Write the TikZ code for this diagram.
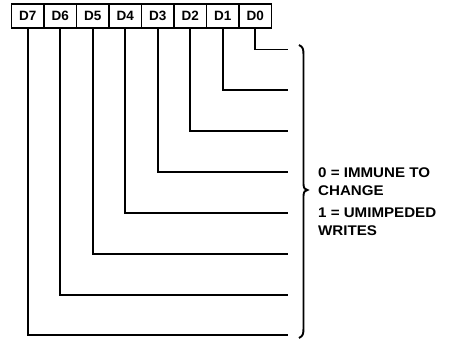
\documentclass[tikz,border=0pt]{standalone}
\usepackage{fontspec}
\setmainfont{Liberation Sans}
\newfontfamily\widefont[FakeStretch=1.08]{Liberation Sans}
\begin{document}
\begin{tikzpicture}[x=1pt,y=-1pt,
  cell/.style={draw,line width=1.9pt,minimum width=32.5pt,minimum height=24pt,inner sep=0pt,
    font=\fontsize{13.5}{15}\selectfont\bfseries},
  wire/.style={line width=1.9pt,line join=miter},
  lab/.style={anchor=base west,inner sep=0pt,font=\widefont\fontsize{14}{16}\selectfont\bfseries}]
\useasboundingbox (0,0) rectangle (451,339);
% register cells
\foreach \n [count=\i from 0] in {7,6,5,4,3,2,1,0}{
  \node[cell] (d\n) at ({11.5+32.5*\i+16.25},16) {D\n};
}
% line end coordinates
\foreach \n [count=\k from 0] in {0,1,2,3,4,5,6,7}{
  \coordinate (e\n) at (288,{49.5+40.85*\k});
}
\foreach \n in {0,...,7}{
  \draw[wire] (d\n.south) |- (e\n);
}
% brace
\coordinate (bt) at (299,45);
\coordinate (tip) at (307.5,190);
\coordinate (bb) at (299,338);
\draw[line width=1.9pt] (bt) .. controls (303,47) and (303.5,49) .. (303.5,55)
  -- (303.5,184) .. controls (303.5,188) and (305,190) .. (tip)
  .. controls (305,190) and (303.5,192) .. (303.5,196)
  -- (303.5,328) .. controls (303.5,334) and (303,336) .. (bb);
% text
\node[lab] (t1) at (318,178) {0 = IMMUNE TO};
\node[lab] (t2) at (318,195.5) {CHANGE};
\node[lab] (t3) at (318,218) {1 = UMIMPEDED};
\node[lab] (t4) at (318,236) {WRITES};
\end{tikzpicture}
\end{document}
